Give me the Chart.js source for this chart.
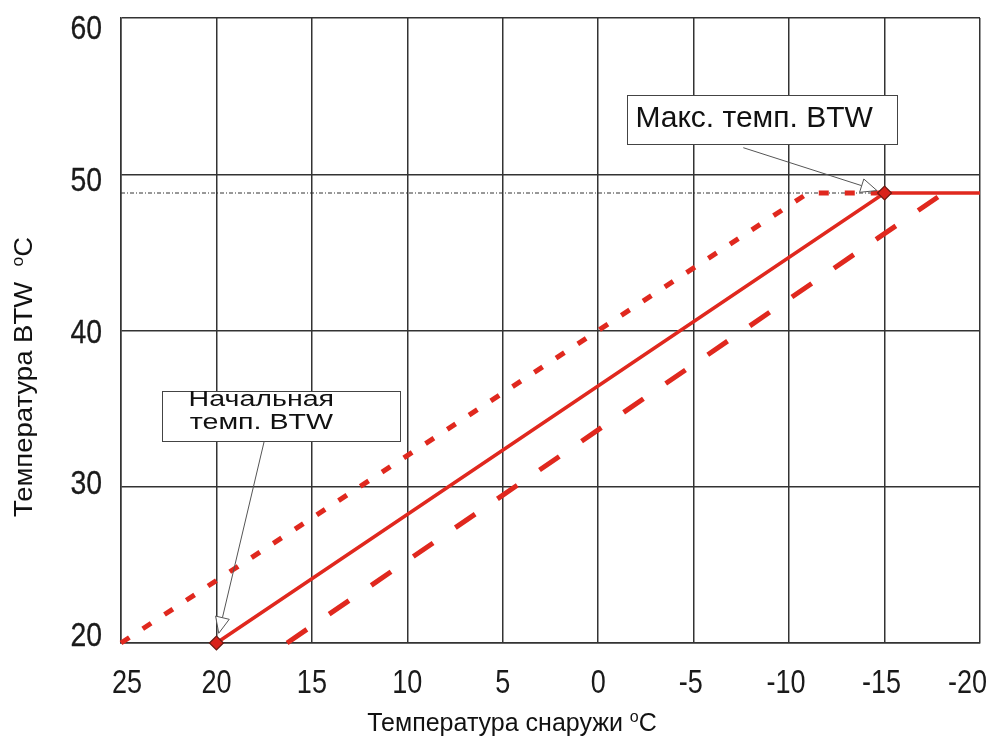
<!DOCTYPE html>
<html>
<head>
<meta charset="utf-8">
<script src="https://cdn.jsdelivr.net/npm/chart.js@4/dist/chart.umd.min.js"></script>
<style>
  html, body { margin: 0; padding: 0; background: #ffffff; }
  #wrap { width: 996px; height: 740px; }
</style>
</head>
<body>
<div id="wrap"><canvas id="c" width="996" height="740"></canvas></div>
<script>
// ---- data ----
const xTicks = [25, 20, 15, 10, 5, 0, -5, -10, -15, -20];
const yTicks = [20, 30, 40, 50, 60];

const solidX  = [20, -15, -20];
const solidY  = [20, 48.8, 48.8];
const dottedX = [25, -11, -15];
const dottedY = [20, 48.8, 48.8];
const dashedX = [16.3, -18.1];
const dashedY = [20, 48.8];
const refX    = [25, -15];
const refY    = [48.8, 48.8];
const markerX = [20, -15];
const markerY = [20, 48.8];

const xTitle = "Температура снаружи ";
const yTitle = "Температура BTW  ";
const unitSup = "o";
const unitTail = "C";

const noteMaxLines   = ["Макс. темп. BTW"];
const noteStartLines = ["Начальная", "темп. BTW"];

const RED = '#e0281e';
const SANS = '"Liberation Sans", Arial, sans-serif';

function pts(xs, ys) { return xs.map((x, i) => ({ x: x, y: ys[i] })); }

// annotation placement (data coordinates for anchors)
const notes = [
  { lines: noteMaxLines, box: { x: -8.6, y: 53.5, w: 270, h: 49 }, textDx: -127, align: 'left',
    font: 30, sx: 1.0, lh: 30, textDy: -1,
    tail: { x: -7.6, y: 51.7 }, tip: { x: -15, y: 48.8 }, tipBack: 8 },
  { lines: noteStartLines, box: { x: 16.6, y: 34.5, w: 238, h: 50 }, textDx: -20, align: 'center',
    font: 22, sx: 1.3, lh: 23, textDy: -5,
    tail: { x: 17.5, y: 32.9 }, tip: { x: 20, y: 20 }, tipBack: 10 }
];

function drawArrow(ctx, x0, y0, x1, y1, back) {
  const ang = Math.atan2(y1 - y0, x1 - x0);
  const tx = x1 - Math.cos(ang) * back, ty = y1 - Math.sin(ang) * back;
  const L = 16, W = 7;
  const bx = tx - Math.cos(ang) * L, by = ty - Math.sin(ang) * L;
  ctx.save();
  ctx.strokeStyle = '#555';
  ctx.lineWidth = 1;
  ctx.beginPath(); ctx.moveTo(x0, y0); ctx.lineTo(bx, by); ctx.stroke();
  ctx.beginPath();
  ctx.moveTo(tx, ty);
  ctx.lineTo(bx + Math.sin(ang) * W, by - Math.cos(ang) * W);
  ctx.lineTo(bx - Math.sin(ang) * W, by + Math.cos(ang) * W);
  ctx.closePath();
  ctx.fillStyle = '#fff';
  ctx.fill();
  ctx.stroke();
  ctx.restore();
}

function stretchedText(ctx, s, x, y, sx, align, bold) {
  ctx.save();
  ctx.translate(x, y);
  ctx.scale(sx, 1);
  ctx.textAlign = align;
  ctx.fillText(s, 0, 0);
  if (bold) {
    ctx.lineWidth = bold;
    ctx.strokeStyle = ctx.fillStyle;
    ctx.strokeText(s, 0, 0);
  }
  ctx.restore();
}

const overlay = {
  id: 'overlay',
  afterDatasetsDraw(chart) {
    const ctx = chart.ctx, xs = chart.scales.x, ys = chart.scales.y;
    notes.forEach(n => {
      const cx = xs.getPixelForValue(n.box.x), cy = ys.getPixelForValue(n.box.y);
      const l = cx - n.box.w / 2, t = cy - n.box.h / 2;
      ctx.save();
      ctx.fillStyle = '#fff';
      ctx.fillRect(l, t, n.box.w, n.box.h);
      ctx.strokeStyle = '#444';
      ctx.lineWidth = 1;
      ctx.strokeRect(Math.round(l) + 0.5, Math.round(t) + 0.5, n.box.w, n.box.h);
      ctx.fillStyle = '#111';
      ctx.font = n.font + 'px ' + SANS;
      ctx.textBaseline = 'middle';
      const startY = cy - (n.lines.length - 1) * n.lh / 2 + n.textDy;
      n.lines.forEach((s, i) => stretchedText(ctx, s, cx + n.textDx, startY + i * n.lh, n.sx, n.align, 0));
      ctx.restore();
      drawArrow(ctx, xs.getPixelForValue(n.tail.x), ys.getPixelForValue(n.tail.y),
                xs.getPixelForValue(n.tip.x), ys.getPixelForValue(n.tip.y), n.tipBack);
    });
  },
  afterDraw(chart) {
    const ctx = chart.ctx, xs = chart.scales.x, ys = chart.scales.y;
    const area = chart.chartArea;
    ctx.save();
    ctx.fillStyle = '#1a1a1a';
    // tick labels (condensed look)
    ctx.font = '33px ' + SANS;
    ctx.textBaseline = 'middle';
    xs.ticks.forEach(t => {
      const s = String(t.value);
      let px = xs.getPixelForValue(t.value);
      const w = ctx.measureText(s).width * 0.82;
      if (px - w / 2 < area.left - 9) px = area.left - 9 + w / 2;
      if (px + w / 2 > 990) px = 990 - w / 2;
      if (t.value < 0) px -= 3;
      stretchedText(ctx, s, px, 684, 0.82, 'center', 0);
    });
    const mid = (area.top + area.bottom) / 2;
    ys.ticks.forEach(t => {
      const s = String(t.value);
      const py = mid + (ys.getPixelForValue(t.value) - mid) * 0.97 + 3;
      stretchedText(ctx, s, 102, py, 0.86, 'right', 0.3);
    });
    ctx.textBaseline = 'alphabetic';
    ctx.fillStyle = '#111';
    // x title
    const f = 25, fs = Math.round(f * 0.62);
    ctx.font = f + 'px ' + SANS;
    const w1 = ctx.measureText(xTitle).width;
    ctx.font = fs + 'px ' + SANS;
    const w2 = ctx.measureText(unitSup).width;
    ctx.font = f + 'px ' + SANS;
    const w3 = ctx.measureText(unitTail).width;
    const total = w1 + w2 + w3;
    let x = 512 - total / 2, base = 731;
    ctx.fillText(xTitle, x, base);
    ctx.font = fs + 'px ' + SANS;
    ctx.fillText(unitSup, x + w1, base - 9);
    ctx.font = f + 'px ' + SANS;
    ctx.fillText(unitTail, x + w1 + w2, base);
    // y title (rotated, slightly wider)
    ctx.translate(32, 377);
    ctx.rotate(-Math.PI / 2);
    ctx.scale(1.1, 1);
    ctx.font = f + 'px ' + SANS;
    const v1 = ctx.measureText(yTitle).width;
    const tot2 = v1 + w2 + w3;
    let yx = -tot2 / 2;
    ctx.fillText(yTitle, yx, 0);
    ctx.font = fs + 'px ' + SANS;
    ctx.fillText(unitSup, yx + v1, -9);
    ctx.font = f + 'px ' + SANS;
    ctx.fillText(unitTail, yx + v1 + w2, 0);
    ctx.restore();
  }
};

new Chart(document.getElementById('c'), {
  type: 'scatter',
  data: {
    datasets: [
      { label: 'markers', data: pts(markerX, markerY), showLine: false, order: 0,
        pointStyle: 'rectRot', pointRadius: 7, backgroundColor: '#d9221a',
        borderColor: '#6a1a12', borderWidth: 1.2, clip: false },
      { label: 'solid', data: pts(solidX, solidY), showLine: true, order: 1,
        borderColor: RED, borderWidth: 3.5, pointRadius: 0, fill: false, clip: false },
      { label: 'dotted', data: pts(dottedX, dottedY), showLine: true, order: 2,
        borderColor: RED, borderWidth: 5, borderDash: [10, 16], pointRadius: 0, fill: false, clip: false },
      { label: 'dashed', data: pts(dashedX, dashedY), showLine: true, order: 3,
        borderColor: RED, borderWidth: 5, borderDash: [24, 27], pointRadius: 0, fill: false, clip: false },
      { label: 'ref', data: pts(refX, refY), showLine: true, order: 4,
        borderColor: '#333', borderWidth: 1, borderDash: [4, 2, 1, 2], pointRadius: 0, fill: false }
    ]
  },
  options: {
    responsive: false,
    animation: false,
    events: [],
    layout: { padding: { top: 18, right: 16, left: 0, bottom: 0 } },
    plugins: { legend: { display: false }, tooltip: { enabled: false }, title: { display: false } },
    scales: {
      x: {
        type: 'linear', reverse: true, min: -20, max: 25,
        afterBuildTicks(scale) { scale.ticks = xTicks.map(v => ({ value: v })); },
        afterFit(scale) { scale.height = 97; scale.paddingLeft = 0; scale.paddingRight = 0; },
        ticks: { display: false },
        grid: { color: '#333', lineWidth: 1.5, drawTicks: false },
        border: { color: '#333', width: 1.5 }
      },
      y: {
        min: 20, max: 60,
        afterBuildTicks(scale) { scale.ticks = yTicks.map(v => ({ value: v })); },
        afterFit(scale) { scale.width = 121; scale.paddingTop = 0; scale.paddingBottom = 0; },
        ticks: { display: false },
        grid: { color: '#333', lineWidth: 1.5, drawTicks: false },
        border: { color: '#333', width: 1.5 }
      }
    }
  },
  plugins: [overlay]
});
</script>
</body>
</html>
